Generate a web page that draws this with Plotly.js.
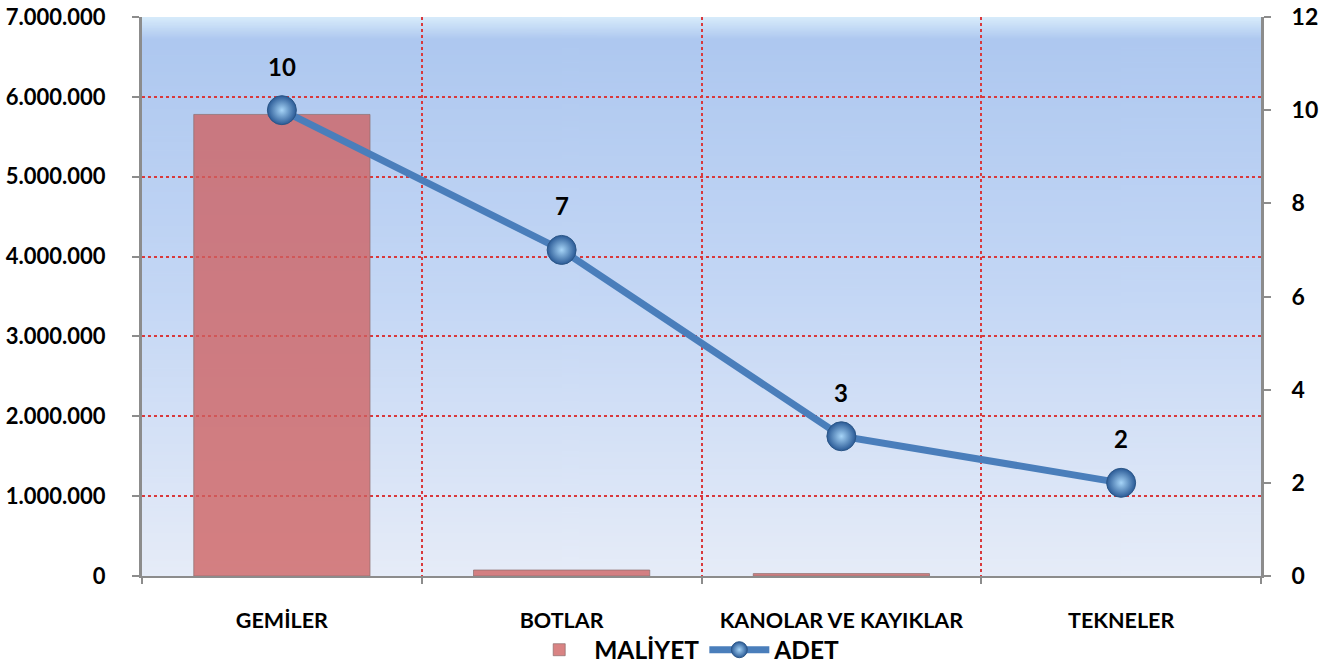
<!DOCTYPE html>
<html>
<head>
<meta charset="utf-8">
<script src="https://cdn.plot.ly/plotly-3.0.1.min.js"></script>
<style>
  html, body { margin: 0; padding: 0; background: #fff; }
  #myDiv { width: 1331px; height: 668px; }
</style>
</head>
<body>
<div id="myDiv"></div>
<script>
// kategoriler ve degerler
var kategoriler = ['GEMİLER', 'BOTLAR', 'KANOLAR VE KAYIKLAR', 'TEKNELER'];
var maliyet = [5780000, 75000, 30000, 0];
var adet = [10, 7, 3, 2];
var solTikler = [0, 1000000, 2000000, 3000000, 4000000, 5000000, 6000000, 7000000];
var sagTikler = [0, 2, 4, 6, 8, 10, 12];

var xPos = [];
for (var i = 0; i < kategoriler.length; i++) {
  xPos.push(i);
}
var sinirlar = [];
for (var i = 0; i <= kategoriler.length; i++) {
  sinirlar.push(i - 0.5);
}
// sifir olan cubukta kenar cizgisi olmasin
var cubukKenar = [];
for (var i = 0; i < maliyet.length; i++) {
  cubukKenar.push(maliyet[i] > 0 ? 1 : 0);
}

// arka plan gradyani (canvas ile)
var cv = document.createElement('canvas');
cv.width = 4; cv.height = 400;
var ctx = cv.getContext('2d');
var g = ctx.createLinearGradient(0, 0, 0, 400);
g.addColorStop(0, '#d8ecfb');
g.addColorStop(0.04, '#aec8f0');
g.addColorStop(0.5, '#c4d7f5');
g.addColorStop(1, '#e6ecf8');
ctx.fillStyle = g;
ctx.fillRect(0, 0, 4, 400);
var bg = cv.toDataURL();

var fnt = 'Lato, "Open Sans", sans-serif';

var Maliyet = {
  x: xPos,
  y: maliyet,
  type: 'bar',
  name: 'MALİYET',
  width: 0.63,
  marker: {
    color: 'rgba(206,96,96,0.78)',
    line: {color: 'rgba(140,110,110,0.7)', width: cubukKenar}
  },
  hoverinfo: 'y'
};

var Adet = {
  x: xPos,
  y: adet,
  yaxis: 'y2',
  type: 'scatter',
  mode: 'lines+markers',
  name: 'ADET',
  line: {color: '#4a7ebb', width: 7},
  marker: {
    size: 29,
    color: '#2a5a96',
    gradient: {type: 'radial', color: '#a6d4f7'},
    line: {color: '#2b5687', width: 1}
  }
};

// 'x2' sadece sinir tikleri ve dikey grid icin
var Sinir = {
  x: [sinirlar[0], sinirlar[sinirlar.length - 1]],
  y: [0, 0],
  xaxis: 'x2',
  type: 'scatter',
  mode: 'markers',
  marker: {opacity: 0},
  showlegend: false,
  hoverinfo: 'skip'
};

var notlar = [];
for (var i = 0; i < adet.length; i++) {
  notlar.push({
    x: xPos[i], y: adet[i], xref: 'x', yref: 'y2',
    text: String(adet[i]), showarrow: false, yshift: 44,
    font: {family: fnt, size: 24, color: '#000', weight: 'bold'}
  });
}

var layout = {
  width: 1331, height: 668,
  margin: {l: 142, r: 70, t: 17, b: 92, autoexpand: false},
  paper_bgcolor: '#ffffff',
  plot_bgcolor: 'rgba(0,0,0,0)',
  separators: ',.',
  font: {family: fnt, color: '#000'},
  showlegend: true,
  legend: {
    orientation: 'h', x: 0.485, xanchor: 'center', y: -0.132, yanchor: 'middle',
    bgcolor: 'rgba(0,0,0,0)',
    font: {family: fnt, size: 24.5, color: '#000', weight: 'bold'},
    traceorder: 'normal', itemwidth: 60
  },
  images: [{
    source: bg, xref: 'paper', yref: 'paper', x: 0, y: 1,
    sizex: 1, sizey: 1, sizing: 'stretch', layer: 'below'
  }],
  xaxis: {
    range: [-0.5, 3.5],
    tickvals: xPos,
    ticktext: kategoriler,
    ticks: '',
    showgrid: false,
    zeroline: false,
    showline: true, linecolor: '#8c8c8c', linewidth: 2,
    ticklabelstandoff: 24,
    tickfont: {family: fnt, size: 21.5, color: '#000', weight: 'bold'}
  },
  xaxis2: {
    overlaying: 'x',
    matches: 'x',
    range: [-0.5, 3.5],
    tickvals: sinirlar,
    showticklabels: false,
    ticks: 'outside', ticklen: 7, tickcolor: '#8c8c8c', tickwidth: 2,
    showgrid: true, gridcolor: '#d9393c', griddash: 'dot', gridwidth: 1.5,
    zeroline: false,
    anchor: 'y'
  },
  yaxis: {
    range: [0, 7000000],
    tickvals: solTikler,
    tickformat: ',d',
    ticks: 'outside', ticklen: 7, tickcolor: '#8c8c8c', tickwidth: 2,
    showline: true, linecolor: '#8c8c8c', linewidth: 3,
    showgrid: true, gridcolor: '#d9393c', griddash: 'dot', gridwidth: 1.5,
    zeroline: false,
    ticklabelstandoff: 22,
    tickfont: {family: fnt, size: 22, color: '#000', weight: 'bold'}
  },
  yaxis2: {
    overlaying: 'y',
    side: 'right',
    range: [0, 12],
    tickvals: sagTikler,
    ticks: 'outside', ticklen: 7, tickcolor: '#8c8c8c', tickwidth: 2,
    showline: true, linecolor: '#8c8c8c', linewidth: 3,
    showgrid: false, zeroline: false,
    ticklabelstandoff: 16,
    tickfont: {family: fnt, size: 23, color: '#000', weight: 'bold'}
  },
  annotations: notlar
};

Plotly.newPlot('myDiv', [Maliyet, Adet, Sinir], layout, {displayModeBar: false});
</script>
</body>
</html>
